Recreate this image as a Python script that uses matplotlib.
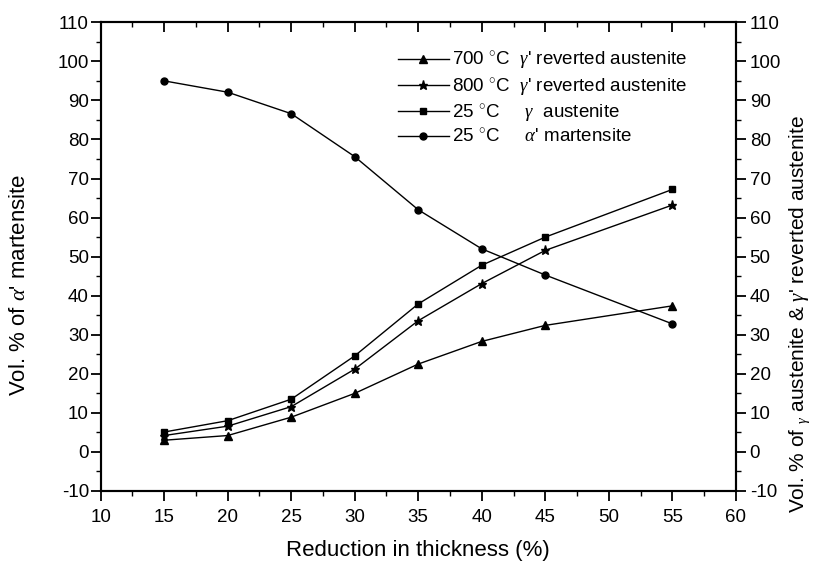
import numpy as np
import matplotlib.pyplot as plt
from matplotlib.ticker import MultipleLocator

plt.rcParams['font.family'] = ['Liberation Sans', 'DejaVu Sans']
plt.rcParams['mathtext.fontset'] = 'custom'
plt.rcParams['mathtext.rm'] = 'Liberation Sans'
plt.rcParams['mathtext.it'] = 'Liberation Serif:italic'
plt.rcParams['axes.unicode_minus'] = False

# reduction in thickness (%)
reduction = [15, 20, 25, 30, 35, 40, 45, 55]

# volume fractions (%)
rev_700 = [3.0, 4.2, 8.9, 15.0, 22.5, 28.3, 32.4, 37.4]
rev_800 = [4.2, 6.6, 11.6, 21.2, 33.6, 43.1, 51.6, 63.2]
aus_25 = [5.1, 8.0, 13.5, 24.6, 37.9, 47.8, 55.0, 67.2]
mart_25 = [95.0, 92.1, 86.6, 75.6, 62.0, 52.0, 45.3, 32.8]

fig = plt.figure(figsize=(8.13, 5.63), dpi=100)
ax1 = fig.add_axes([0.1239, 0.1279, 0.7811, 0.8325])
ax2 = ax1.twinx()

kw = dict(color='black', lw=1.0)
l1, = ax2.plot(reduction, rev_700, marker='^', ms=6, **kw)
l2, = ax2.plot(reduction, rev_800, marker='*', ms=6.5, **kw)
l3, = ax2.plot(reduction, aus_25, marker='s', ms=5, **kw)
l4, = ax1.plot(reduction, mart_25, marker='o', ms=5, **kw)

for ax in (ax1, ax2):
    ax.set_xlim(10, 60)
    ax.set_ylim(-10, 110)
    ax.yaxis.set_major_locator(MultipleLocator(10))
    ax.yaxis.set_minor_locator(MultipleLocator(5))
    ax.xaxis.set_major_locator(MultipleLocator(5))
    ax.xaxis.set_minor_locator(MultipleLocator(2.5))
    for s in ax.spines.values():
        s.set_linewidth(1.5)

ax1.tick_params(axis='both', which='major', labelsize=13.5, length=7, width=1.3, direction='out')
ax1.tick_params(axis='both', which='minor', length=3.5, width=1.0, direction='out')
ax1.tick_params(axis='x', which='major', pad=6)
ax1.tick_params(axis='y', which='major', pad=1.5)
ax1.tick_params(axis='x', which='both', top=True, labeltop=False)
ax2.tick_params(axis='y', which='major', labelsize=13.5, length=7, width=1.3, direction='out', pad=3)
ax2.tick_params(axis='y', which='minor', length=3.5, width=1.0, direction='out')
# top ticks point inwards
for t in ax1.xaxis.get_major_ticks() + ax1.xaxis.get_minor_ticks():
    t.tick2line.set_marker(3)

ax1.set_xlabel('Reduction in thickness (%)', fontsize=16, labelpad=10)
ax1.set_ylabel("Vol. % of $\\alpha$' martensite", fontsize=16)
ax1.yaxis.set_label_coords(-0.111, 0.44)
ax2.set_ylabel("Vol. % of $_{\\gamma}$ austenite & $\\gamma$' reverted austenite",
               fontsize=15)
ax2.yaxis.set_label_coords(1.081, 0.378)

labels = ["700 $^{\\circ}$C  $\\gamma$' reverted austenite",
          "800 $^{\\circ}$C  $\\gamma$' reverted austenite",
          "25 $^{\\circ}$C     $\\gamma$  austenite",
          "25 $^{\\circ}$C     $\\alpha$' martensite"]
fig.legend([l1, l2, l3, l4], labels, loc='upper left',
           bbox_to_anchor=(398 / 813, 1 - 50 / 563), bbox_transform=fig.transFigure,
           frameon=False, fontsize=13.5, handlelength=2.7, handletextpad=0.2,
           labelspacing=0.28, borderpad=0, borderaxespad=0)

fig.savefig('out.png', dpi=100)
